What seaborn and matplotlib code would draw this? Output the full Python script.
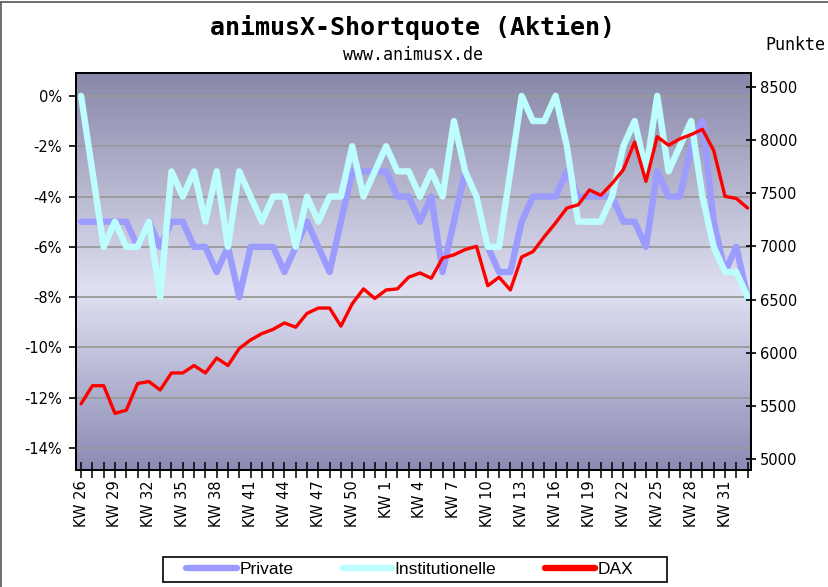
#!/usr/bin/env python3
"""animusX Shortquote (Aktien) - Private / Institutionelle vs. DAX"""

import numpy as np
import pandas as pd
import matplotlib
matplotlib.use("Agg")
import matplotlib.pyplot as plt
import seaborn as sns
from matplotlib.lines import Line2D
from matplotlib.patches import Rectangle

# Kalenderwochen KW 26 .. KW 52, KW 1 .. KW 33
weeks = list(range(26, 53)) + list(range(1, 34))
week_labels = [f"KW {w}" for w in weeks]

# Shortquote in %
private = [-5, -5, -5, -5, -5, -6, -5, -6, -5, -5,
           -6, -6, -7, -6, -8, -6, -6, -6, -7, -6,
           -5, -6, -7, -5, -3, -3, -3, -3, -4, -4,
           -5, -4, -7, -5, -3, -4, -6, -7, -7, -5,
           -4, -4, -4, -3, -4, -4, -4, -4, -5, -5,
           -6, -3, -4, -4, -2, -1, -5, -7, -6, -8]
institutionelle = [0, -3, -6, -5, -6, -6, -5, -8, -3, -4,
                   -3, -5, -3, -6, -3, -4, -5, -4, -4, -6,
                   -4, -5, -4, -4, -2, -4, -3, -2, -3, -3,
                   -4, -3, -4, -1, -3, -4, -6, -6, -3, 0,
                   -1, -1, 0, -2, -5, -5, -5, -4, -2, -1,
                   -3, 0, -3, -2, -1, -4, -6, -7, -7, -8]
# DAX in Punkten
dax = [5520, 5690, 5690, 5430, 5460, 5710, 5730, 5650, 5810, 5810,
       5880, 5810, 5950, 5880, 6040, 6120, 6180, 6220, 6280, 6240,
       6370, 6420, 6420, 6250, 6460, 6600, 6510, 6590, 6600, 6710,
       6750, 6700, 6890, 6920, 6970, 7000, 6630, 6710, 6590, 6900,
       6950, 7090, 7220, 7360, 7390, 7530, 7480, 7590, 7720, 7980,
       7610, 8030, 7950, 8010, 8050, 8100, 7900, 7470, 7450, 7360]

pct_ticks = [0, -2, -4, -6, -8, -10, -12, -14]
pct_labels = [f"{p}%" for p in pct_ticks]
pts_ticks = [5000, 5500, 6000, 6500, 7000, 7500, 8000, 8500]

col_private = "#9c9cff"
col_inst = "#bdfdfd"
col_dax = "#ff0000"

sns.set_theme(style="white")
plt.rcParams['font.family'] = ['DejaVu Sans']
plt.rcParams['text.color'] = 'black'

W, H = 829, 587
fig = plt.figure(figsize=(W / 100, H / 100), dpi=100)
fig.patch.set_facecolor("white")

# Rahmen links/oben
fig.add_artist(Line2D([1.5 / W, 1.5 / W], [0, 1 - 1.5 / H], color="#555555", lw=1.2))
fig.add_artist(Line2D([1.5 / W, 1], [1 - 1.5 / H, 1 - 1.5 / H], color="#555555", lw=1.2))

L, R, T, B = 76, 751, 73, 470
ax = fig.add_axes([L / W, 1 - B / H, (R - L) / W, (B - T) / H])

# Hintergrundverlauf (dunkel - hell - dunkel)
n = 256
pos = np.linspace(0, 1, n)
stops = [0.0, 0.55, 1.0]
rgb = np.array([[136, 136, 170], [224, 224, 242], [138, 138, 180]]) / 255.0
grad = np.stack([np.interp(pos, stops, rgb[:, c]) for c in range(3)], axis=-1)
grad = grad[:, None, :]
ax.imshow(grad, extent=[0, 1, 0, 1], transform=ax.transAxes,
          aspect="auto", zorder=0, interpolation="bilinear")

idx = np.arange(len(weeks))
df = pd.DataFrame({"idx": idx, "Private": private, "Institutionelle": institutionelle})
long = df.melt(id_vars="idx", var_name="serie", value_name="wert")

sns.lineplot(data=long, x="idx", y="wert", hue="serie",
             palette={"Private": col_private, "Institutionelle": col_inst},
             hue_order=["Private", "Institutionelle"],
             linewidth=4.6, ax=ax, legend=False, zorder=3)

ax.set_xlim(-0.45, 59.3)
ax.set_ylim(-14.87, 0.91)
ax.set_yticks(pct_ticks)
ax.set_yticklabels(pct_labels)
ax.set_xticks(idx[::3])
ax.set_xticklabels(week_labels[::3], rotation=90, va="top", ha="center")
ax.set_xticks(idx, minor=True)
ax.set_xlabel("")
ax.set_ylabel("")
ax.set_axisbelow(True)
ax.yaxis.grid(True, color="#9a9a9a", lw=1.3)
ax.xaxis.grid(False)

ax.tick_params(axis="y", direction="out", length=5, width=1.2, pad=5,
               labelsize=10.5, colors="black", left=True)
ax.tick_params(axis="x", which="both", direction="inout", length=11, width=1.1,
               pad=2, labelsize=10.5, colors="black", bottom=True)

ax2 = ax.twinx()
sns.lineplot(x=idx, y=dax, color=col_dax, linewidth=2.4, ax=ax2, zorder=4)
ax2.set_ylim(4898, 8629)
ax2.set_yticks(pts_ticks)
ax2.set_yticklabels([str(p) for p in pts_ticks])
ax2.set_ylabel("")
ax2.tick_params(axis="y", direction="inout", length=7, width=1.2, pad=3,
                labelsize=10.5, colors="black", right=True)

for a in (ax, ax2):
    for s in a.spines.values():
        s.set_color("black")
        s.set_linewidth(1.4)

# Titel
fig.text(413 / W, 1 - 28 / H, "animusX-Shortquote (Aktien)", ha="center", va="center",
         fontsize=18, fontweight="bold", family="DejaVu Sans Mono", color="black")
fig.text(413 / W, 1 - 55 / H, "www.animusx.de", ha="center", va="center",
         fontsize=12, family="DejaVu Sans Mono", color="black")
fig.text(795 / W, 1 - 45 / H, "Punkte", ha="center", va="center",
         fontsize=12, family="DejaVu Sans Mono", color="black")

# Legende mit eigenem Rahmen
fig.add_artist(Rectangle((163 / W, 1 - 582 / H), (667 - 163) / W, 25 / H,
                         transform=fig.transFigure, fill=False,
                         edgecolor="black", lw=1.2))
handles = [Line2D([], [], color=col_private, lw=4.6),
           Line2D([], [], color=col_inst, lw=4.6),
           Line2D([], [], color=col_dax, lw=4.6)]
fig.legend(handles, ["Private", "Institutionelle", "DAX"],
           loc="center", bbox_to_anchor=(410 / W, 1 - 569.5 / H), ncol=3,
           frameon=False, handlelength=2.9, handletextpad=0.15,
           columnspacing=2.8, borderpad=0.2,
           prop={"family": "Liberation Sans", "size": 12.5})

fig.savefig("out.png", dpi=100)
